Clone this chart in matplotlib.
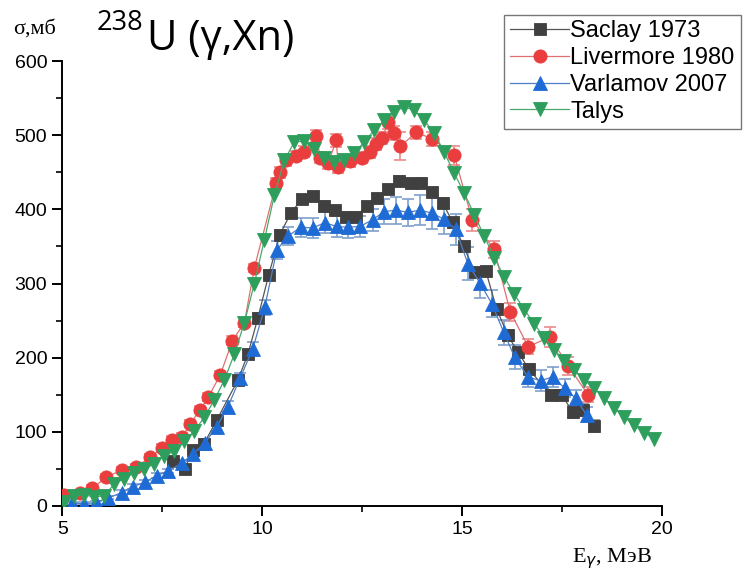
import matplotlib
matplotlib.use("Agg")
import matplotlib.pyplot as plt
from matplotlib.ticker import MultipleLocator

# --- 238U(g,Xn) cross sections, mb ---
saclay_e = [7.76, 8.06, 8.26, 8.54, 8.86, 9.39, 9.64, 9.89, 10.16, 10.44, 10.71, 10.99,
            11.26, 11.54, 11.81, 12.09, 12.34, 12.61, 12.86, 13.14, 13.41, 13.71, 13.96,
            14.24, 14.51, 14.76, 15.04, 15.31, 15.59, 15.86, 16.14, 16.39, 16.66, 17.21,
            17.49, 17.76, 18.01, 18.29]
saclay_s = [61, 50, 76, 84, 116, 170, 205, 254, 312, 366, 395, 414,
            418, 405, 399, 390, 390, 404, 415, 427, 439, 435, 436,
            423, 409, 383, 350, 315, 317, 266, 230, 208, 185, 150,
            150, 127, 130, 108]
saclay_err = [4, 4, 4, 4, 5, 5, 5, 6, 6, 6, 6, 6,
              6, 6, 6, 6, 6, 6, 6, 6, 6, 6, 6,
              6, 6, 6, 6, 6, 6, 7, 7, 7, 7, 7,
              7, 8, 8, 8]

livermore_e = [5.05, 5.45, 5.75, 6.1, 6.5, 6.85, 7.2, 7.5, 7.75, 8.0, 8.2, 8.45, 8.65,
               8.95, 9.25, 9.55, 9.8, 10.35, 10.45, 10.6, 10.85, 11.05, 11.35, 11.45,
               11.65, 11.85, 11.9, 12.2, 12.5, 12.7, 12.85, 13.0, 13.15, 13.3, 13.45,
               13.85, 14.25, 14.8, 15.25, 15.8, 16.2, 16.65, 17.2, 17.65, 18.15]
livermore_s = [15, 17, 24, 39, 49, 53, 66, 78, 89, 93, 111, 130, 147,
               177, 223, 247, 321, 436, 450, 466, 472, 478, 499, 470,
               463, 493, 457, 465, 470, 477, 488, 496, 518, 503, 485,
               504, 495, 473, 386, 346, 262, 215, 228, 189, 150]
livermore_err = [4, 4, 4, 4, 4, 4, 4, 5, 5, 5, 5, 5, 5,
                 5, 6, 6, 6, 7, 7, 7, 7, 7, 8, 8,
                 8, 9, 8, 8, 8, 8, 8, 8, 9, 9, 19,
                 9, 9, 13, 15, 12, 12, 10, 14, 12, 10]

varlamov_e = [5.24, 5.55, 5.85, 6.14, 6.49, 6.76, 7.06, 7.36, 7.64, 7.99, 8.26, 8.56,
              8.86, 9.14, 9.44, 9.76, 10.06, 10.36, 10.64, 10.96, 11.26, 11.56, 11.86,
              12.14, 12.44, 12.76, 13.04, 13.34, 13.64, 13.94, 14.24, 14.54, 14.84,
              15.14, 15.44, 15.74, 16.04, 16.31, 16.64, 16.96, 17.26, 17.56, 17.84, 18.11]
varlamov_s = [4, 3, 5, 11, 18, 26, 32, 41, 47, 58, 70, 85,
              107, 134, 172, 212, 268, 345, 364, 376, 375, 382, 377,
              376, 377, 386, 397, 399, 396, 399, 395, 387, 373,
              327, 301, 273, 234, 201, 174, 169, 174, 159, 145, 123]
varlamov_err = [2, 2, 2, 2, 3, 3, 3, 3, 3, 4, 4, 5,
                6, 7, 8, 9, 10, 12, 12, 13, 13, 14, 14,
                14, 14, 15, 17, 18, 18, 20, 22, 20, 21,
                22, 20, 18, 17, 16, 14, 14, 13, 12, 11, 10]

talys_e = [5.05, 5.3, 5.55, 5.8, 6.05, 6.3, 6.55, 6.8, 7.05, 7.3, 7.55, 7.8, 8.05,
           8.3, 8.55, 8.8, 9.05, 9.3, 9.55, 9.8, 10.05, 10.3, 10.55, 10.8, 11.05,
           11.3, 11.55, 11.8, 12.05, 12.3, 12.55, 12.8, 13.05, 13.3, 13.55, 13.8,
           14.05, 14.3, 14.55, 14.8, 15.05, 15.3, 15.55, 15.8, 16.05, 16.3, 16.55,
           16.8, 17.05, 17.3, 17.55, 17.8, 18.05, 18.3, 18.55, 18.8, 19.05, 19.3,
           19.55, 19.8]
talys_s = [5, 14, 15, 12, 14, 30, 37, 45, 50, 57, 68, 74, 88,
           101, 120, 143, 170, 205, 247, 300, 359, 419, 466, 491, 492,
           481, 469, 464, 466, 476, 491, 507, 520, 532, 538, 534,
           520, 503, 477, 449, 422, 393, 364, 335, 309, 286, 265,
           246, 227, 211, 196, 184, 170, 159, 146, 132, 120, 109,
           99, 91]

SERIES = [
    ("Saclay 1973", saclay_e, saclay_s, saclay_err, "s", 8, "#404040", "#555555", "#8a8a8a"),
    ("Livermore 1980", livermore_e, livermore_s, livermore_err, "o", 9.5, "#ea3e3e", "#e07070", "#e98a8a"),
    ("Varlamov 2007", varlamov_e, varlamov_s, varlamov_err, "^", 9.5, "#1f6bd6", "#4f7fc4", "#7e9fcc"),
    ("Talys", talys_e, talys_s, None, "v", 9.5, "#2e9e5c", "#4aa86e", None),
]

fig = plt.figure(figsize=(7.43, 5.8), dpi=100)
ax = fig.add_axes([0.0841, 0.1276, 0.807, 0.767])

handles = []
for name, e, s, err, mk, ms, mcol, lcol, ecol in SERIES:
    if err is not None:
        ax.errorbar(e, s, yerr=err, fmt="none", ecolor=ecol, elinewidth=1.2,
                    capsize=4, capthick=1.2, zorder=2)
    h, = ax.plot(e, s, color=lcol, linewidth=0.9, marker=mk, markersize=ms,
                 markerfacecolor=mcol, markeredgecolor=mcol, markeredgewidth=0.6,
                 label=name, zorder=3)
    handles.append(h)

ax.set_xlim(5, 20)
ax.set_ylim(0, 600)
ax.xaxis.set_major_locator(MultipleLocator(5))
ax.xaxis.set_minor_locator(MultipleLocator(2.5))
ax.yaxis.set_major_locator(MultipleLocator(100))
ax.yaxis.set_minor_locator(MultipleLocator(50))
ax.spines["top"].set_visible(False)
ax.spines["right"].set_visible(False)
for sp in ("left", "bottom"):
    ax.spines[sp].set_linewidth(1.4)
ax.tick_params(which="major", direction="out", length=7, width=1.4,
               labelsize=14, pad=4)
ax.tick_params(which="minor", direction="out", length=4.5, width=1.2)
for lab in ax.get_xticklabels() + ax.get_yticklabels():
    lab.set_family("Liberation Sans")
ax.tick_params(axis="x", pad=4)

# axis captions
fig.text(0.018, 0.942, "σ,мб", family="Liberation Serif", fontsize=16,
         ha="left", va="baseline")
fig.text(0.770, 0.030, r"E$_\gamma$, МэВ", family="Liberation Serif", fontsize=16,
         ha="left", va="baseline")

# reaction label
fig.text(0.130, 0.948, "238", family="Open Sans", fontsize=19.5, ha="left", va="baseline")
fig.text(0.198, 0.914, "U (γ,Xn)", family="Open Sans", fontsize=30, ha="left", va="baseline")

leg = fig.legend(handles=handles, loc="upper right", bbox_to_anchor=(1.0, 0.979),
                 prop={"family": "Liberation Sans", "size": 17},
                 frameon=True, fancybox=False, handlelength=2.5, handletextpad=0.05,
                 borderpad=0.25, labelspacing=0.2, borderaxespad=0.1)
leg.get_frame().set_edgecolor("#555555")
leg.get_frame().set_linewidth(1.0)

fig.savefig("out.png", dpi=100)
